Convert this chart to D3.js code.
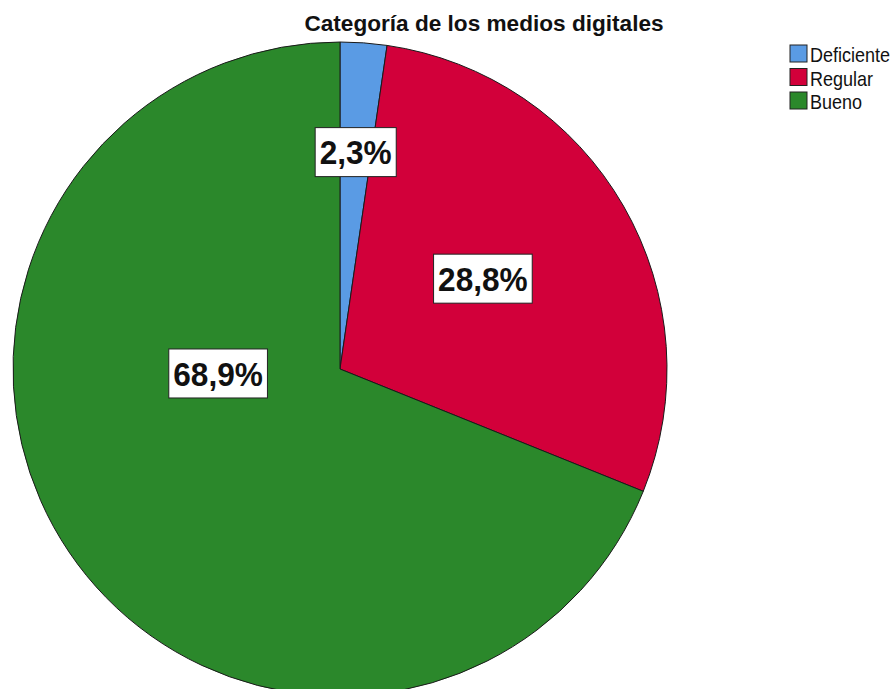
<!DOCTYPE html>
<html>
<head>
<meta charset="utf-8">
<script src="https://cdn.jsdelivr.net/npm/d3@7"></script>
<style>
  html, body { margin: 0; padding: 0; background: #fff; }
  svg { display: block; }
</style>
</head>
<body>
<svg id="chart" width="893" height="689"></svg>
<script>
// Data
const title = "Categoría de los medios digitales";
const categories = ["Deficiente", "Regular", "Bueno"];
const percents = [2.3, 28.8, 68.9];
const colors = ["#5A9BE4", "#D2003A", "#2B882B"];

// Label placement: fraction of radius and optional angle override (degrees from top, clockwise)
const labelRadiusFrac = [0.665, 0.517, 0.373];
const labelAngleDeg = [null, 57.7, 267.9];

const W = 893, H = 689;
const cx = 340, cy = 369, R = 327;

const svg = d3.select("#chart");

const pie = d3.pie().sort(null).value(d => d.value);
const arcs = pie(categories.map((c, i) => ({ cat: c, value: percents[i], i })));
const arc = d3.arc().innerRadius(0).outerRadius(R);

const g = svg.append("g").attr("transform", `translate(${cx},${cy})`);

g.selectAll("path.slice")
  .data(arcs)
  .join("path")
  .attr("class", "slice")
  .attr("d", arc)
  .attr("fill", d => colors[d.data.i])
  .attr("stroke", "#1a1a1a")
  .attr("stroke-width", 1);

const fmt = v => v.toFixed(1).replace(".", ",") + "%";
const labelScaleX = 0.93;
const labelBoxH = 49;

const labels = g.selectAll("g.lbl")
  .data(arcs)
  .join("g")
  .attr("class", "lbl")
  .attr("transform", d => {
    const i = d.data.i;
    const a = labelAngleDeg[i] != null ? labelAngleDeg[i] * Math.PI / 180 : (d.startAngle + d.endAngle) / 2;
    const r = R * labelRadiusFrac[i];
    return `translate(${r * Math.sin(a)},${-r * Math.cos(a)})`;
  });

labels.each(function(d) {
  const sel = d3.select(this);
  const t = sel.append("text")
    .attr("text-anchor", "middle")
    .attr("transform", `scale(${labelScaleX},1)`)
    .attr("y", 12.3)
    .attr("font-family", "Liberation Sans, Arial, sans-serif")
    .attr("font-weight", "bold")
    .attr("font-size", 34)
    .attr("fill", "#111")
    .text(fmt(d.data.value));
  const w = t.node().getComputedTextLength() * labelScaleX + 9;
  sel.insert("rect", "text")
    .attr("x", -w / 2)
    .attr("y", -labelBoxH / 2)
    .attr("width", w)
    .attr("height", labelBoxH)
    .attr("fill", "#fff")
    .attr("stroke", "#222")
    .attr("stroke-width", 1);
});

// Title
svg.append("text")
  .attr("x", 484)
  .attr("y", 31)
  .attr("text-anchor", "middle")
  .attr("font-family", "Liberation Sans, Arial, sans-serif")
  .attr("font-weight", "bold")
  .attr("font-size", 22.6)
  .attr("fill", "#111")
  .text(title);

// Legend
const legend = svg.append("g").attr("transform", "translate(790,45)");
const item = legend.selectAll("g.item")
  .data(categories)
  .join("g")
  .attr("class", "item")
  .attr("transform", (d, i) => `translate(0,${i * 23.5})`);

item.append("rect")
  .attr("width", 17)
  .attr("height", 17)
  .attr("fill", (d, i) => colors[i])
  .attr("stroke", "#222")
  .attr("stroke-width", 1);

item.append("text")
  .attr("transform", "translate(20,17) scale(0.9,1)")
  .attr("font-family", "Liberation Sans, Arial, sans-serif")
  .attr("font-size", 20)
  .attr("fill", "#111")
  .text(d => d);
</script>
</body>
</html>
